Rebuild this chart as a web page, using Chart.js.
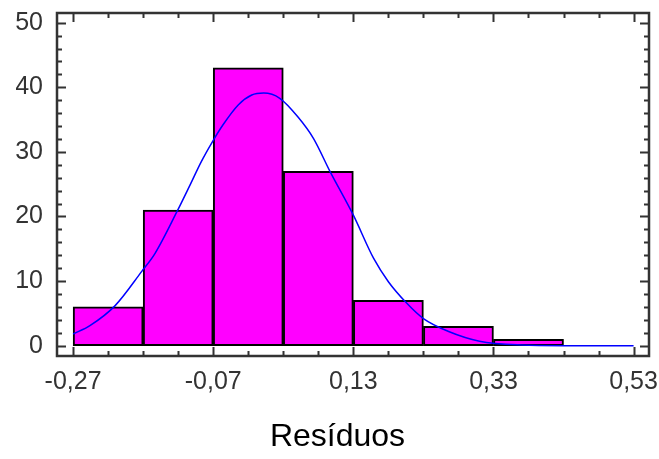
<!DOCTYPE html>
<html lang="pt">
<head>
<meta charset="utf-8">
<script src="https://cdn.jsdelivr.net/npm/chart.js"></script>
<style>
  html, body { margin: 0; padding: 0; background: #fff; }
</style>
</head>
<body>
<canvas id="chartHist" width="659" height="459"></canvas>
<script>
  // histograma dos resíduos (centro de cada classe e frequência)
  var binCenters = [-0.22, -0.12, -0.02, 0.08, 0.18, 0.28, 0.38];
  var binCounts = [6, 21, 43, 27, 7, 3, 1];

  // curva normal ajustada
  var curveX = [-0.27, -0.246, -0.21, -0.172, -0.153, -0.122, -0.103, -0.087, -0.071, -0.056, -0.034, -0.015, 0.002, 0.025, 0.051, 0.073, 0.097, 0.13, 0.159, 0.18, 0.206, 0.23, 0.266, 0.31, 0.37, 0.43, 0.53];
  var curveY = [1.8, 3.1, 6.2, 11.5, 14.3, 20.7, 24.9, 28.5, 31.6, 34.2, 37.3, 38.8, 39.1, 38.3, 35.4, 32.1, 26.9, 20.2, 13.5, 9.9, 6.6, 4.2, 2.2, 0.7, 0.1, 0.0, 0.0];

  // rótulos dos eixos
  var xTickValues = [-0.27, -0.07, 0.13, 0.33, 0.53];
  var xTickLabels = ['-0,27', '-0,07', '0,13', '0,33', '0,53'];
  var yTickValues = [0, 10, 20, 30, 40, 50];
  var yTickLabels = ['0', '10', '20', '30', '40', '50'];

  var fonteEixo = { family: 'Liberation Sans', size: 25 };

  // moldura com marcas para dentro nos quatro lados
  var moldura = {
    id: 'moldura',
    afterDatasetsDraw: function (chart) {
      var ctx = chart.ctx;
      var a = chart.chartArea;
      var sx = chart.scales.x;
      var sy = chart.scales.y;
      ctx.save();
      ctx.strokeStyle = '#333';
      ctx.lineWidth = 2;
      ctx.beginPath();
      var i, k, v, p, len;
      for (i = 0; i < xTickValues.length; i++) {
        for (k = 0; k < 4; k++) {
          if (k > 0 && i == xTickValues.length - 1) break;
          v = xTickValues[i] + k * (i < xTickValues.length - 1 ? (xTickValues[i + 1] - xTickValues[i]) / 4 : 0);
          p = Math.round(sx.getPixelForValue(v)) + 0.5;
          len = k == 0 ? 9 : 5;
          ctx.moveTo(p, a.bottom); ctx.lineTo(p, a.bottom - len);
          ctx.moveTo(p, a.top); ctx.lineTo(p, a.top + len);
        }
      }
      for (i = 0; i < yTickValues.length; i++) {
        for (k = 0; k < 5; k++) {
          if (k > 0 && i == yTickValues.length - 1) break;
          v = yTickValues[i] + k * (i < yTickValues.length - 1 ? (yTickValues[i + 1] - yTickValues[i]) / 5 : 0);
          p = Math.round(sy.getPixelForValue(v)) + 0.5;
          len = k == 0 ? 9 : 5;
          ctx.moveTo(a.left, p); ctx.lineTo(a.left + len, p);
          ctx.moveTo(a.right, p); ctx.lineTo(a.right - len, p);
        }
      }
      ctx.stroke();
      ctx.lineWidth = 2.5;
      ctx.strokeRect(a.left, a.top, a.right - a.left, a.bottom - a.top);
      ctx.restore();
    }
  };

  var ctxHist = document.getElementById('chartHist').getContext('2d');
  var configHist = {
    type: 'bar',
    data: {
      datasets: [
        {
          type: 'line',
          data: curveX.map(function (x, i) { return { x: x, y: curveY[i] }; }),
          borderColor: '#0000FF',
          borderWidth: 1.5,
          pointRadius: 0,
          cubicInterpolationMode: 'monotone',
          fill: false,
          order: 0
        },
        {
          type: 'bar',
          data: binCenters.map(function (x, i) { return { x: x, y: binCounts[i] }; }),
          backgroundColor: '#FF00FF',
          borderColor: '#000000',
          borderWidth: 2,
          borderSkipped: false,
          barPercentage: 1,
          categoryPercentage: 1,
          order: 1
        }
      ]
    },
    options: {
      responsive: false,
      animation: false,
      layout: { padding: { left: 16, top: 13, right: 0, bottom: 0 } },
      plugins: {
        legend: { display: false },
        tooltip: { enabled: false },
        title: {
          display: true,
          text: 'Resíduos',
          position: 'bottom',
          color: '#000',
          font: { family: 'Liberation Sans', size: 32, weight: 'normal' },
          padding: { top: 0, bottom: 3 }
        }
      },
      scales: {
        x: {
          type: 'linear',
          offset: false,
          min: -0.293,
          max: 0.552,
          grid: { display: false, drawTicks: false },
          border: { display: false },
          afterBuildTicks: function (scale) {
            scale.ticks = xTickValues.map(function (v) { return { value: v }; });
          },
          afterFit: function (scale) {
            scale.height = 61.6;
            scale.paddingLeft = 0;
            scale.paddingRight = 10;
          },
          ticks: {
            autoSkip: false,
            maxRotation: 0,
            padding: 11,
            color: '#333',
            font: fonteEixo,
            callback: function (v, i) { return xTickLabels[i]; }
          }
        },
        y: {
          min: -1.6,
          max: 51.5,
          grid: { display: false, drawTicks: false },
          border: { display: false },
          afterBuildTicks: function (scale) {
            scale.ticks = yTickValues.map(function (v) { return { value: v }; });
          },
          afterFit: function (scale) {
            scale.width = 41;
            scale.paddingTop = 0;
            scale.paddingBottom = 0;
          },
          ticks: {
            padding: 14,
            color: '#333',
            font: fonteEixo,
            callback: function (v, i) { return yTickLabels[i]; }
          }
        }
      }
    },
    plugins: [moldura]
  };

  var graficoHist = new Chart(ctxHist, configHist);
</script>
</body>
</html>
